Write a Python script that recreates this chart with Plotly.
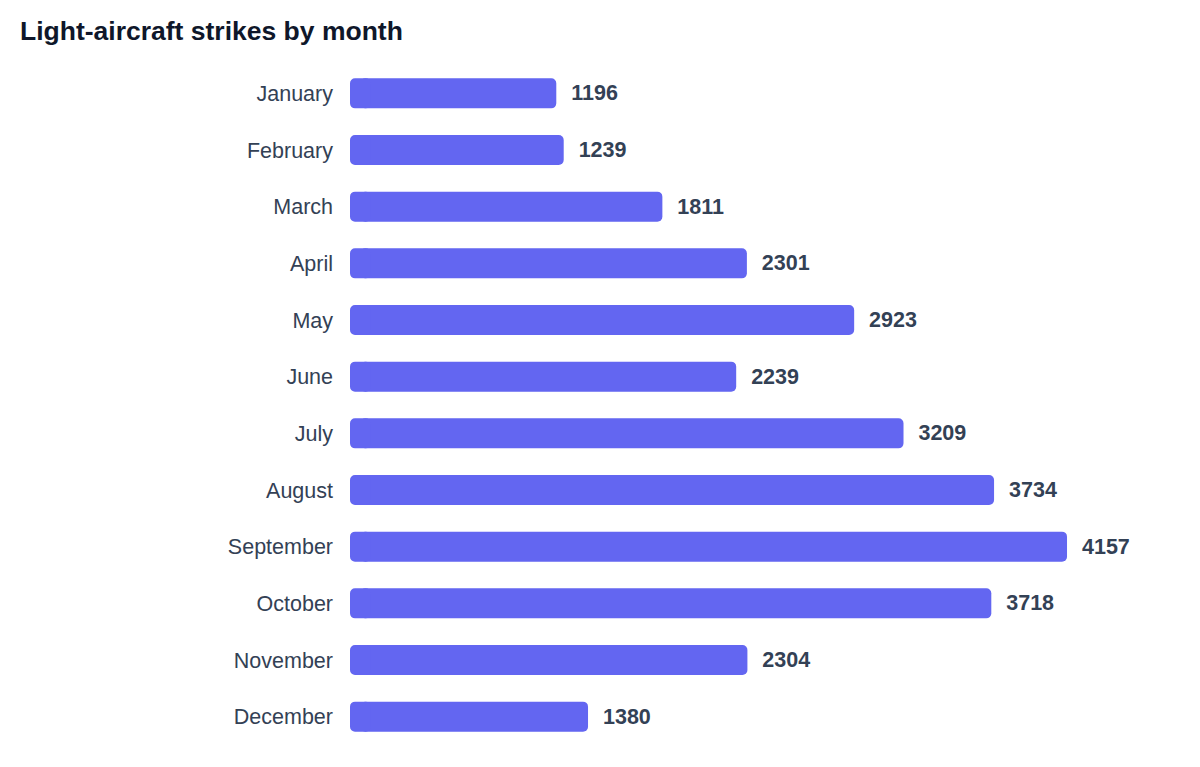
import plotly.graph_objects as go

months = ["January", "February", "March", "April", "May", "June", "July",
          "August", "September", "October", "November", "December"]
strikes = [1196, 1239, 1811, 2301, 2923, 2239, 3209, 3734, 4157, 3718, 2304, 1380]

BAR_COLOR = "#6366F1"
TEXT_COLOR = "#334155"
FONT = "Liberation Sans, Arial, sans-serif"

# each bar = main body (rounded right end) + short cap (rounded left end)
CAP = 60  # in data units, just longer than the corner radius
body_base = [CAP for _ in strikes]
body_len = [v - CAP for v in strikes]
cap_base = [2 * CAP for _ in strikes]
cap_len = [-2 * CAP for _ in strikes]

fig = go.Figure()
fig.add_trace(go.Bar(
    y=months, x=body_len, base=body_base, orientation="h",
    marker=dict(color=BAR_COLOR, cornerradius=5, opacity=1, line=dict(width=0)),
    text=[f"\u00a0\u00a0{v}" for v in strikes], textposition="outside",
    constraintext="none", cliponaxis=False,
    outsidetextfont=dict(family=FONT, size=21.5, color=TEXT_COLOR, weight="bold"),
    customdata=strikes, hovertemplate="%{y}: %{customdata}<extra></extra>",
    showlegend=False,
))
fig.add_trace(go.Bar(
    y=months, x=cap_len, base=cap_base, orientation="h",
    marker=dict(color=BAR_COLOR, cornerradius=5, opacity=1, line=dict(width=0)),
    hoverinfo="skip", showlegend=False,
))

fig.update_layout(
    width=1200, height=767,
    barmode="overlay", bargap=0.47,
    plot_bgcolor="white", paper_bgcolor="white",
    margin=dict(l=350, r=20, t=65, b=22),
    title=dict(text="<b>Light-aircraft strikes by month</b>",
               x=20 / 1200, xref="container", xanchor="left",
               y=1 - 31 / 767, yref="container", yanchor="middle",
               font=dict(family=FONT, size=26.5, color="#0F172A")),
    font=dict(family=FONT, color=TEXT_COLOR),
)
fig.update_xaxes(range=[0, 4812], visible=False, showgrid=False, zeroline=False)
fig.update_yaxes(range=[len(months) - 0.5, -0.5], showgrid=False, zeroline=False,
                 showline=False, ticks="", ticklabelstandoff=16,
                 tickfont=dict(family=FONT, size=21.5, color=TEXT_COLOR))

fig.write_html("out.html", config={"displayModeBar": False},
               post_script="document.body.style.margin='0';document.body.style.overflow='hidden';")
